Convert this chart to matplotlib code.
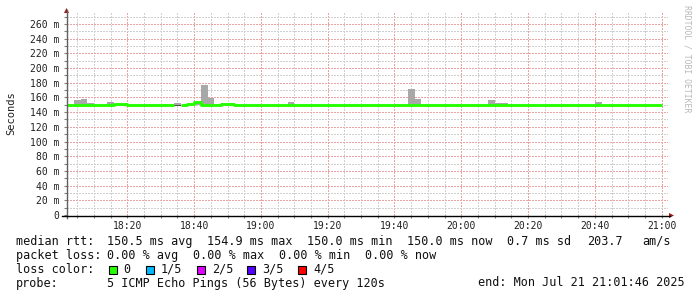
import numpy as np
import pandas as pd
import matplotlib
matplotlib.use("Agg")
import matplotlib.pyplot as plt
import matplotlib.dates as mdates
from matplotlib.ticker import MultipleLocator, FuncFormatter

# data
day = "2025-07-21 "
t_start = pd.Timestamp(day + "18:01:46")
t_end = pd.Timestamp(day + "21:01:46")

# smoke bars (2 min steps), ms
smoke_time = ["18:04", "18:06", "18:08", "18:14", "18:34", "18:40", "18:42", "18:44",
              "18:48", "18:50", "19:08", "19:44", "19:46", "20:08", "20:10", "20:12", "20:40"]
smoke_top = [156.5, 157.8, 152.0, 153.7, 152.4, 153.0, 176.9, 159.2,
             152.4, 152.4, 153.7, 171.4, 157.8, 156.5, 152.4, 152.4, 153.7]
smoke_bottom = 149.5

dark_time = ["18:34", "18:40"]
dark_low = [148.3, 150.4]
dark_high = [149.3, 152.4]

# median rtt, step changes
median_time = ["18:01:46", "18:16", "18:20", "18:34", "18:36", "18:38", "18:40",
               "18:42", "18:48", "18:52", "19:10", "21:00"]
median_value = [150.0, 150.8, 150.0, np.nan, 150.0, 150.8, 153.6,
                150.0, 150.8, 150.0, 149.6, 149.6]

loss_labels = ["0", "1/5", "2/5", "3/5", "4/5"]
loss_colors = ["#26ff00", "#00b8ff", "#dd00ff", "#5500ff", "#ff0000"]

W, H = 697, 297
fig = plt.figure(figsize=(W / 100, H / 100), dpi=100)
fig.patch.set_facecolor("white")

x0, x1, y0, y1 = 66.5, 667.5, 215.0, 12.3
ax = fig.add_axes([x0 / W, 1 - y0 / H, (x1 - x0) / W, (y0 - y1) / H])
ax.set_facecolor("white")

step = pd.Timedelta(minutes=2)
for t, top in zip(smoke_time, smoke_top):
    ts = pd.Timestamp(day + t)
    ax.fill_between([ts, ts + step], smoke_bottom, top, color="#a8a8a8", lw=0, zorder=3)
for t, lo, hi in zip(dark_time, dark_low, dark_high):
    ts = pd.Timestamp(day + t)
    ax.fill_between([ts, ts + step], lo, hi, color="#505050", lw=0, zorder=3)

mt = [pd.Timestamp(day + t) for t in median_time]
ax.step(mt, median_value, where="post", color=loss_colors[0], lw=2.1, zorder=4,
        solid_capstyle="butt")

ax.set_xlim(t_start, t_end)
ax.set_ylim(0, 275.8)

# grid
ax.xaxis.set_major_locator(mdates.MinuteLocator(byminute=[0, 20, 40]))
ax.xaxis.set_minor_locator(mdates.MinuteLocator(byminute=range(0, 60, 5)))
ax.xaxis.set_major_formatter(mdates.DateFormatter("%H:%M"))
ax.yaxis.set_major_locator(MultipleLocator(20))
ax.yaxis.set_minor_locator(MultipleLocator(10))
ax.yaxis.set_major_formatter(FuncFormatter(lambda v, p: "0" if v == 0 else f"{v:.0f} m"))
ax.grid(which="minor", color="#d0d0d0", lw=0.72, ls=(0, (1.4, 1.4)), zorder=1,
        antialiased=False)
ax.grid(which="major", color="#eaa4a4", lw=0.72, ls=(0, (1.4, 1.4)), zorder=2,
        antialiased=False)
ax.set_axisbelow(True)

mono = "DejaVu Sans Mono"
ax.tick_params(axis="both", which="both", length=2, width=0.8, color="#808080",
               labelsize=7, pad=3)
ax.tick_params(axis="x", which="major", pad=2)
for lab in ax.get_xticklabels() + ax.get_yticklabels():
    lab.set_family(mono)
    lab.set_color("#202020")

for s in ["top", "right", "left", "bottom"]:
    ax.spines[s].set_visible(False)

# axes with arrows (figure pixels)
def px(x, y):
    return x / W, 1 - y / H

fig.add_artist(plt.Line2D(*zip(px(66.5, 217.5), px(66.5, 10)), color="#606060", lw=1))
fig.add_artist(plt.Line2D(*zip(px(62, 215.5), px(670, 215.5)), color="black", lw=1))
fig.add_artist(plt.Polygon([px(64, 13), px(69, 13), px(66.5, 8)], closed=True,
                           color="#a01818", lw=0))
fig.add_artist(plt.Polygon([px(669, 213), px(669, 218), px(674, 215.5)], closed=True,
                           color="#a01818", lw=0))

fig.text(11 / W, 1 - 113.5 / H, "Seconds", rotation=90, fontsize=7.5, family=mono,
         ha="center", va="center", color="#202020")
fig.text(687 / W, 1 - 5 / H, "RRDTOOL / TOBI OETIKER", rotation=270, fontsize=5.9,
         family=mono, ha="center", va="top", color="#b8b8b8")

# legend text
fs = 8.5
def txt(x, y, s):
    fig.text(x / W, 1 - y / H, s, fontsize=fs, family=mono, ha="left", va="center",
             color="#101010")

rows = [
    (241.5, [(16, "median rtt:"), (107.3, "150.5 ms avg"), (207.3, "154.9 ms max"),
             (307.3, "150.0 ms min"), (407.3, "150.0 ms now"), (506.7, "0.7 ms sd"),
             (586.7, "203.7"), (642.3, "am/s")]),
    (255.5, [(16, "packet loss:"), (107.3, "0.00 % avg"), (193.3, "0.00 % max"),
             (279.3, "0.00 % min"), (365, "0.00 % now")]),
    (269.5, [(16, "loss color:")]),
    (283.0, [(16, "probe:"), (107.3, "5 ICMP Echo Pings (56 Bytes) every 120s"),
             (478.3, "end: Mon Jul 21 21:01:46 2025")]),
]
for y, items in rows:
    for x, s in items:
        txt(x, y, s)

box_x = [108.5, 146, 197, 247.3, 298.3]
for bx, lab, col in zip(box_x, loss_labels, loss_colors):
    fig.add_artist(plt.Rectangle(px(bx, 273.5), 8 / W, 8 / H, facecolor=col,
                                 edgecolor="black", lw=0.8))
    txt(bx + 15, 269.5, lab)

fig.savefig("out.png", dpi=100, facecolor="white")
